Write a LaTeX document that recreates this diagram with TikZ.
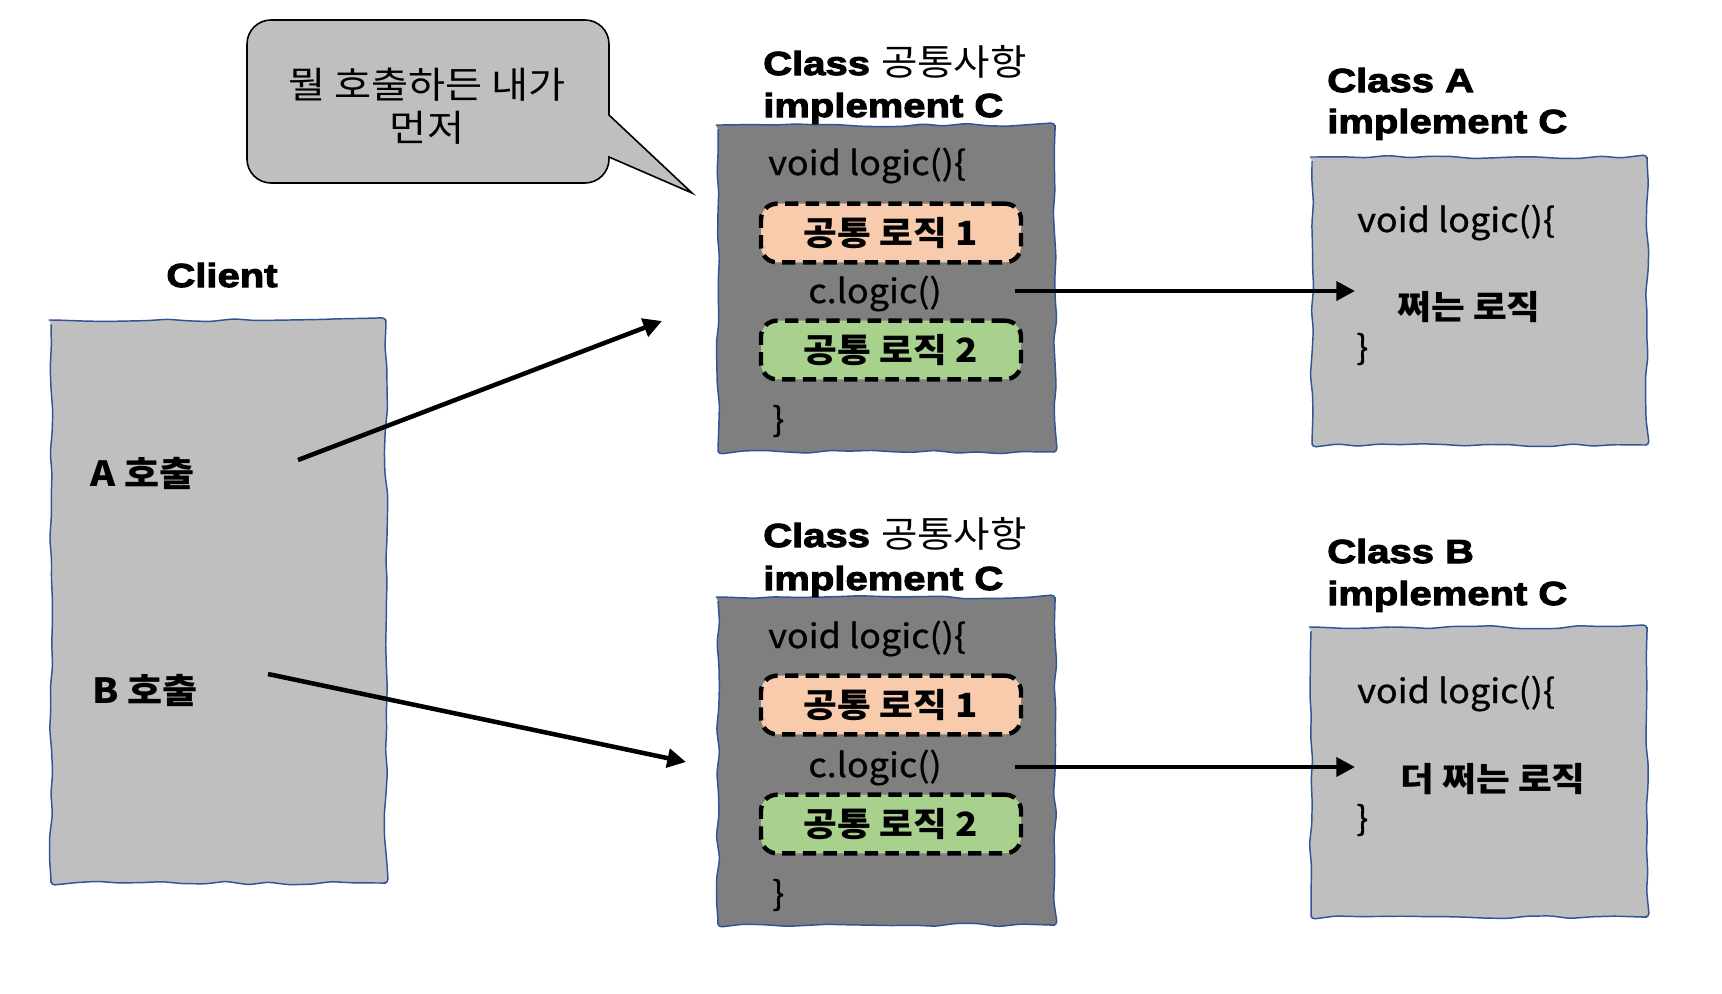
\documentclass[tikz,border=0pt]{standalone}
\usepackage{fontspec}
\usetikzlibrary{arrows.meta,decorations.pathmorphing}
\newfontfamily\kr{Noto Sans CJK KR}
\newfontfamily\krw{Noto Sans CJK KR}[FakeStretch=1.1]
\newfontfamily\krc{Noto Sans CJK KR}[FakeStretch=1.08,FakeBold=0.8]
\newfontfamily\blk{Liberation Sans}[FakeStretch=1.2,BoldFeatures={FakeBold=3}]
\definecolor{lg}{HTML}{BFBFBF}
\definecolor{dg}{HTML}{7F7F7F}
\definecolor{peach}{HTML}{F8CBAD}
\definecolor{grn}{HTML}{A9D18E}
\definecolor{edge}{HTML}{2F5597}
\tikzset{
  sketch/.style={draw=edge, line width=1.1pt, decorate,
    decoration={random steps, segment length=16pt, amplitude=1.3pt}, rounded corners=3pt},
  title/.style={inner sep=0pt, font=\blk\bfseries\fontsize{25}{30}\selectfont},
  code/.style={inner sep=0pt, font=\krc\fontsize{25}{29}\selectfont},
  bcode/.style={inner sep=0pt, font=\krw\bfseries\fontsize{25}{29}\selectfont},
  logicbox/.style={draw=black, line width=3.3pt, dash pattern=on 10pt off 5.5pt, rounded corners=12pt,
    minimum width=195pt, minimum height=44pt, inner sep=0pt, font=\krw\bfseries\fontsize{25}{29}\selectfont},
  arr/.style={line width=3.4pt, -{Triangle[length=14pt,width=14pt]}},
  bubble/.style={draw=black, line width=1.2pt, fill=lg},
}
\begin{document}
\begin{tikzpicture}[x=0.75pt,y=-0.75pt]
\pgfmathsetseed{7}
\useasboundingbox (0,0) rectangle (1722,993);

% speech bubble
\draw[bubble] (271,20) -- (585,20) arc[start angle=-90,end angle=0,radius=24]
  -- (609,115) -- (692,193) -- (609,157) -- (609,159) arc[start angle=0,end angle=90,radius=24]
  -- (271,183) arc[start angle=90,end angle=180,radius=24]
  -- (247,44) arc[start angle=180,end angle=270,radius=24] -- cycle;
\node[inner sep=0pt, align=center, font=\krw\fontsize{27.5}{32}\selectfont] (bubbletext) at (427,106)
  {뭘 호출하든 내가\\먼저};

% boxes
\fill[lg, sketch] (51,320) rectangle (386,883);
\fill[dg, sketch] (718,125) rectangle (1055,452);
\fill[dg, sketch] (718,597) rectangle (1055,925);
\fill[lg, sketch] (1312,157) rectangle (1647,445);
\fill[lg, sketch] (1311,627) rectangle (1647,917);

% titles
\node[title, anchor=base] (clienttitle) at (222,287) {Client};
\node[title, anchor=base west] (t1a) at (763,75) {Class {\krw\mdseries\fontsize{27}{30}\selectfont 공통사항}};
\node[title, anchor=base west] (t1b) at (763,117) {implement C};
\node[title, anchor=base west] (t2a) at (763,547) {Class {\krw\mdseries\fontsize{27}{30}\selectfont 공통사항}};
\node[title, anchor=base west] (t2b) at (763,590) {implement C};
\node[title, anchor=base west] (tAa) at (1327,92) {Class A};
\node[title, anchor=base west] (tAb) at (1327,133) {implement C};
\node[title, anchor=base west] (tBa) at (1327,563) {Class B};
\node[title, anchor=base west] (tBb) at (1327,605) {implement C};

% client
\node[bcode, font=\krw\bfseries\fontsize{26}{30}\selectfont, anchor=west] (callA) at (90,473) {A 호출};
\node[bcode, font=\krw\bfseries\fontsize{26}{30}\selectfont, anchor=west] (callB) at (92,690) {B 호출};

% template top
\node[code, anchor=base west] (v1) at (768,175) {void logic()\{};
\node[logicbox, fill=peach] (l11) at (891,233) {공통 로직 1};
\node[code, anchor=base] (c1) at (875,303) {c.logic()};
\node[logicbox, fill=grn] (l12) at (891,350) {공통 로직 2};
\node[code, anchor=west] (e1) at (772,421) {\}};

% template bottom
\node[code, anchor=base west] (v2) at (768,648) {void logic()\{};
\node[logicbox, fill=peach] (l21) at (891,705) {공통 로직 1};
\node[code, anchor=base] (c2) at (875,777) {c.logic()};
\node[logicbox, fill=grn] (l22) at (891,824) {공통 로직 2};
\node[code, anchor=west] (e2) at (772,895) {\}};

% class A
\node[code, anchor=base west] (vA) at (1357,232) {void logic()\{};
\node[bcode, anchor=west] (bodyA) at (1397,307) {쩌는 로직};
\node[code, anchor=west] (eA) at (1356,349) {\}};

% class B
\node[code, anchor=base west] (vB) at (1357,703) {void logic()\{};
\node[bcode, anchor=west] (bodyB) at (1400,779) {더 쩌는 로직};
\node[code, anchor=west] (eB) at (1356,820) {\}};

% arrows
\coordinate (aS) at (298,460);
\coordinate (aE) at (662,321);
\coordinate (bS) at (268,674);
\coordinate (bE) at (686,762);
\coordinate (c1S) at (1015,291);
\coordinate (c1E) at (1355,291);
\coordinate (c2S) at (1015,767);
\coordinate (c2E) at (1355,767);
\draw[arr] (aS) -- (aE);
\draw[arr] (bS) -- (bE);
\draw[arr] (c1S) -- (c1E);
\draw[arr] (c2S) -- (c2E);
\end{tikzpicture}
\end{document}
